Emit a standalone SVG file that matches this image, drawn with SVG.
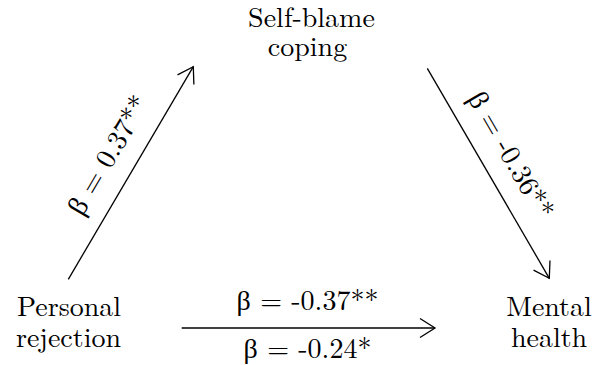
<svg xmlns="http://www.w3.org/2000/svg" width="593" height="365" viewBox="0 0 593 365">
  <style>
    .edge { stroke: #000; stroke-width: 1.3; fill: none; }
  </style>
  <defs>
    <marker id="arr" markerUnits="userSpaceOnUse" markerWidth="20" markerHeight="24" viewBox="-18 -12 20 24" refX="0" refY="0" orient="auto">
      <path d="M -15,-9.5 L 0,0 L -15,9.5" fill="none" stroke="#000" stroke-width="1.3"/>
    </marker>
  </defs>
  <rect width="593" height="365" fill="#fff"/>
  <g font-family="Latin Modern Roman, Liberation Serif, serif" font-size="28" fill="#000" text-anchor="middle">
    <g id="connectors">
      <line class="edge" x1="68.3" y1="279.3" x2="193.3" y2="66.7" marker-end="url(#arr)"/>
      <line class="edge" x1="427.3" y1="68.3" x2="549.3" y2="278.3" marker-end="url(#arr)"/>
      <line class="edge" x1="181.7" y1="328" x2="435" y2="328" marker-end="url(#arr)"/>
      <g transform="translate(108,155) rotate(-59.5)">
        <text x="0" y="9.5">β = 0.37**</text>
      </g>
      <g transform="translate(511,155) rotate(59.8)">
        <text x="0" y="9.5">β = -0.36**</text>
      </g>
      <text x="307.5" y="310">β = -0.37**</text>
      <text x="307.5" y="358">β = -0.24*</text>
    </g>
    <g id="selfblame">
      <text x="311.5" y="27">Self-blame</text>
      <text x="307.5" y="56">coping</text>
    </g>
    <g id="personal">
      <text x="69" y="316">Personal</text>
      <text x="68.5" y="347">rejection</text>
    </g>
    <g id="mental">
      <text x="549" y="316">Mental</text>
      <text x="549" y="347">health</text>
    </g>
  </g>
</svg>
